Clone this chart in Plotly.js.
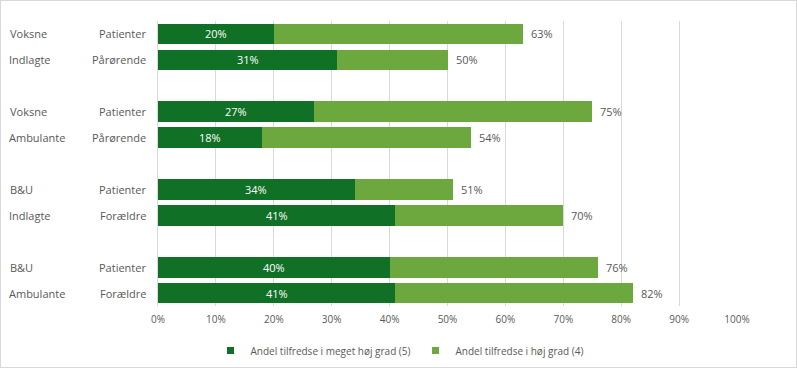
<!DOCTYPE html>
<html><head><meta charset="utf-8">
<script src="https://cdn.plot.ly/plotly-3.0.1.min.js"></script>
<style>
html,body{margin:0;padding:0;background:#fff;}
#chart{width:797px;height:368px;box-sizing:border-box;border:1px solid #d9d9d9;}
</style></head>
<body><div id="chart"></div>
<script>
const groupTop = ["Voksne", "Voksne", "B&U", "B&U"];
const groupBottom = ["Indlagte", "Ambulante", "Indlagte", "Ambulante"];
const subLabels = ["Patienter", "Pårørende", "Patienter", "Pårørende", "Patienter", "Forældre", "Patienter", "Forældre"];
const veryHigh = [20, 31, 27, 18, 34, 41, 40, 41];
const total = [63, 50, 75, 54, 51, 70, 76, 82];
const seriesNames = ["Andel tilfredse i meget høj grad (5)", "Andel tilfredse i høj grad (4)"];
const xTicks = [0, 10, 20, 30, 40, 50, 60, 70, 80, 90, 100];

// slot positions: groups of 2 with one empty slot between groups
const pos = subLabels.map((_, i) => Math.floor(i / 2) * 3 + (i % 2));
const high = total.map((t, i) => t - veryHigh[i]);

const darkC = '#107026', lightC = '#6DA83F', txt = '#595959';
const font = "Open Sans, Noto Sans, sans-serif";

const traces = [
  {type:'bar', orientation:'h', name:seriesNames[0], x:veryHigh, y:pos, width:0.8, showlegend:false,
   marker:{color:darkC}, hoverinfo:'x'},
  {type:'bar', orientation:'h', name:seriesNames[1], x:high, y:pos, width:0.8, showlegend:false,
   marker:{color:lightC}, hoverinfo:'x'},
  {type:'scatter', mode:'markers', name:seriesNames[0], x:[null], y:[null],
   marker:{symbol:'square', size:7, color:darkC}},
  {type:'scatter', mode:'markers', name:seriesNames[1], x:[null], y:[null],
   marker:{symbol:'square', size:7, color:lightC}}
];

const ann = [];
total.forEach((t,i)=>{
  ann.push({x:veryHigh[i]/2, y:pos[i], xref:'x', yref:'y', text:veryHigh[i]+'%', showarrow:false, xanchor:'center',
    font:{size:11, color:'#ffffff', family:font}});
  ann.push({x:t, y:pos[i], xref:'x', yref:'y', text:t+'%', showarrow:false, xanchor:'left', xshift:6,
    font:{size:11, color:txt, family:font}});
  ann.push({x:0, y:pos[i], xref:'x', yref:'y', text:subLabels[i], showarrow:false, xanchor:'right', xshift:-10,
    font:{size:11, color:txt, family:font}});
});
groupTop.forEach((g,k)=>{
  ann.push({x:0, y:k*3, xref:'paper', yref:'y', text:g, showarrow:false, xanchor:'left',
    xshift:-150, font:{size:11, color:txt, family:font}});
  ann.push({x:0, y:k*3+1, xref:'paper', yref:'y', text:groupBottom[k], showarrow:false, xanchor:'left',
    xshift:-151, font:{size:11, color:txt, family:font}});
});

const layout = {
  width:797, height:368, barmode:'stack',
  margin:{l:157, r:61, t:20, b:63, autoexpand:false},
  paper_bgcolor:'rgba(0,0,0,0)', plot_bgcolor:'#fff',
  font:{family:font, color:txt, size:10},
  xaxis:{range:[0,100], tickvals:xTicks, ticktext:xTicks.map(v=>v+'%'), showgrid:true, gridcolor:'#d9d9d9',
    zeroline:false, showline:false, ticks:'', ticklabelstandoff:6, tickfont:{size:10, color:txt}, fixedrange:true, automargin:false},
  yaxis:{range:[10.5,-0.5], showticklabels:false, showgrid:false, zeroline:false,
    showline:true, linecolor:'#d9d9d9', ticks:'', fixedrange:true, automargin:false},
  showlegend:true,
  legend:{orientation:'h', x:0.5, xref:'container', xanchor:'center', y:0.05, yref:'container', yanchor:'middle',
    font:{size:10, color:txt, family:font}, traceorder:'normal', itemwidth:30, tracegroupgap:0},
  annotations:ann
};
Plotly.newPlot('chart', traces, layout, {displayModeBar:false, staticPlot:true});
</script></body></html>
